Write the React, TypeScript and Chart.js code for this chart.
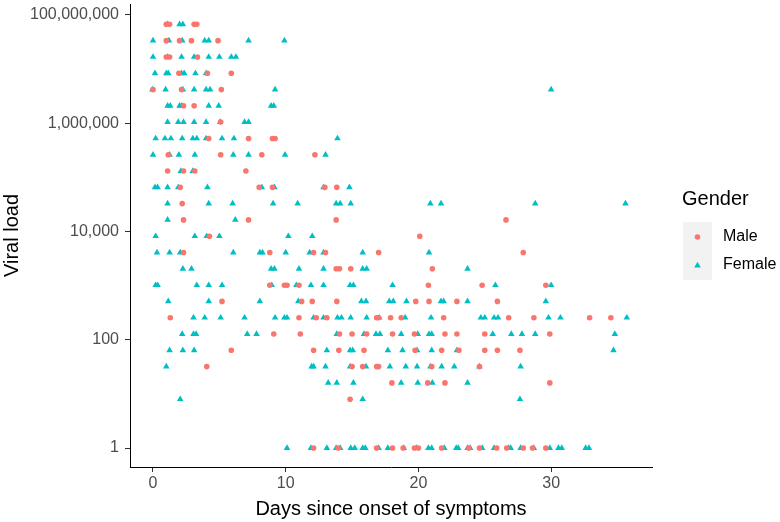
import React, { useEffect, useRef } from 'react';
import { Chart, registerables } from 'chart.js';

Chart.register(...registerables);

// Viral load levels (rows of the plot, from top to bottom)
const loadLevels: number[] = [
  6.71e7, 3.36e7, 1.68e7, 8.39e6, 4.19e6, 2.1e6, 1.05e6, 5.24e5, 2.62e5, 1.31e5,
  6.55e4, 3.28e4, 1.64e4, 8190, 4100, 2050, 1020, 512, 256, 128, 64, 32, 16, 8, 1,
];

// Days since onset for male patients, per viral load level
const maleDaysByLevel: number[][] = [
  [1.0, 1.25, 3.1, 3.3],
  [1.0, 2.0, 2.9, 4.9],
  [1.0, 1.25, 3.35],
  [1.95, 4.1, 5.9],
  [0.0, 2.15, 5.15],
  [2.3, 3.1],
  [5.1],
  [4.2, 7.2, 9.0, 9.2],
  [1.15, 5.1, 8.2, 12.2],
  [1.1, 2.3, 3.15, 7.0],
  [2.05, 8.0, 9.0, 12.95, 13.85],
  [2.2],
  [2.3, 7.2, 13.8, 26.6],
  [4.25, 20.1],
  [2.3, 8.8, 12.1, 13.0, 17.0, 27.9],
  [13.8, 14.05, 14.9, 21.05],
  [8.8, 9.9, 10.1, 11.0, 20.75, 24.8, 29.6],
  [5.2, 11.2, 12.0, 13.85, 19.8, 20.8, 22.9, 25.95],
  [1.3, 11.0, 12.3, 13.1, 16.85, 17.0, 17.9, 18.7, 21.9, 26.8, 28.7, 32.9, 34.5],
  [9.1, 11.1, 14.05, 15.0, 16.1, 18.05, 19.7, 22.0, 22.9, 25.0, 29.9],
  [5.9, 12.1, 14.0, 15.9, 19.75, 21.75, 23.05, 25.0, 25.95, 27.65],
  [4.05, 15.0, 15.8, 16.85, 17.0, 21.0, 24.6],
  [18.0, 20.7, 22.0, 29.9],
  [14.85],
  [12.1, 13.95, 16.85, 18.05, 18.85, 19.7, 20.0, 21.75, 23.8, 24.6, 25.9, 26.65, 27.9, 28.6, 29.6],
];

// Days since onset for female patients, per viral load level
const femaleDaysByLevel: number[][] = [
  [1.1, 2.0, 2.25],
  [0.0, 1.2, 2.2, 3.9, 4.2, 7.2, 9.9],
  [0.0, 1.1, 2.15, 3.1, 4.2, 5.0, 5.9, 6.25],
  [0.15, 1.0, 1.15, 2.15, 2.35, 3.2, 4.0],
  [-0.05, 0.95, 2.25, 3.1, 4.0, 4.3, 9.2, 30.0],
  [1.1, 1.3, 2.0, 2.15, 4.2, 4.95, 8.9, 9.1],
  [1.1, 1.9, 2.3, 3.1, 4.0, 5.05, 6.9, 7.2],
  [0.2, 0.9, 1.35, 2.2, 3.0, 3.3, 4.0, 5.2, 6.1, 13.9],
  [0.0, 1.25, 1.95, 3.15, 6.05, 7.2, 9.95, 13.0],
  [2.1, 3.0],
  [0.15, 0.35, 1.1, 1.9, 4.1, 8.2, 9.15, 12.85, 14.8],
  [1.1, 4.2, 6.0, 9.05, 10.9, 13.8, 14.1, 14.9, 20.9, 21.7, 28.8, 35.6],
  [1.1, 6.2],
  [0.2, 3.15, 4.05, 5.0, 10.2, 12.0],
  [0.3, 1.25, 2.05, 6.05, 8.05, 8.25, 10.0, 11.8, 12.85, 15.8, 20.8],
  [2.25, 2.9, 8.9, 9.15, 11.0, 12.85, 15.8, 16.1, 23.7],
  [0.2, 0.35, 3.3, 4.2, 5.2, 8.95, 10.8, 11.9, 12.85, 14.85, 15.1, 18.05, 25.8, 30.0],
  [1.15, 4.2, 8.05, 10.95, 15.7, 16.05, 17.8, 18.1, 19.1, 21.7, 21.9, 23.7, 29.6],
  [3.05, 3.9, 5.1, 6.9, 9.2, 9.9, 10.1, 12.1, 12.85, 13.9, 14.2, 14.9, 16.1, 17.05, 19.0, 20.95, 24.7, 25.0, 25.7, 26.0, 29.8, 30.7, 35.7],
  [2.2, 3.05, 3.25, 7.1, 7.8, 13.85, 15.9, 16.8, 17.1, 18.7, 19.95, 20.8, 21.0, 25.6, 27.0, 27.8, 28.8, 34.8],
  [1.25, 2.25, 3.1, 13.1, 14.85, 15.05, 17.7, 18.8, 19.9, 21.0, 22.9, 34.7],
  [1.0, 11.95, 12.1, 13.0, 14.85, 16.05, 17.85, 19.05, 19.9, 20.9, 21.75, 22.7, 24.6, 27.7],
  [13.2, 13.85, 15.1, 18.7, 19.95, 21.05, 23.7],
  [2.05, 15.8, 27.65],
  [10.1, 11.9, 13.1, 13.8, 14.1, 14.9, 15.2, 15.8, 16.0, 17.0, 17.7, 18.9, 19.85, 20.75, 21.0, 21.95, 22.85, 23.0, 23.7, 23.9, 24.8, 25.7, 26.8, 26.95, 27.7, 28.7, 29.9, 30.55, 30.8, 32.6, 32.85],
];

const xTickValues = [0, 10, 20, 30];
const yTickValues = [1, 100, 10000, 1000000, 100000000];
const seriesNames = ['Male', 'Female'];
const seriesColors = ['#F8766D', '#00BFC4'];
const legendTitle = 'Gender';
const xTitle = 'Days since onset of symptoms';
const yTitle = 'Viral load';

const FONT = '"Liberation Sans", Arial, sans-serif';

function toPoints(byLevel: number[][]) {
  const pts: { x: number; y: number }[] = [];
  byLevel.forEach((days, i) => {
    days.forEach((d) => pts.push({ x: d, y: loadLevels[i] }));
  });
  return pts;
}

const legendPlugin = {
  id: 'ggLegend',
  afterDraw(chart: any) {
    const ctx = chart.ctx as CanvasRenderingContext2D;
    ctx.save();
    ctx.fillStyle = '#000000';
    ctx.textBaseline = 'middle';
    ctx.textAlign = 'left';
    ctx.font = `20px ${FONT}`;
    ctx.fillText(legendTitle, 682, 199);
    ctx.fillStyle = '#F2F2F2';
    ctx.fillRect(683, 222, 29, 58);
    ctx.fillStyle = seriesColors[0];
    ctx.beginPath();
    ctx.arc(697.5, 237, 2.8, 0, Math.PI * 2);
    ctx.fill();
    const r = 3.8;
    const cx = 697.5;
    const cy = 265.5;
    ctx.fillStyle = seriesColors[1];
    ctx.beginPath();
    let rad = 0;
    ctx.moveTo(cx + Math.sin(rad) * r, cy - Math.cos(rad) * r);
    rad += (2 * Math.PI) / 3;
    ctx.lineTo(cx + Math.sin(rad) * r, cy - Math.cos(rad) * r);
    rad += (2 * Math.PI) / 3;
    ctx.lineTo(cx + Math.sin(rad) * r, cy - Math.cos(rad) * r);
    ctx.closePath();
    ctx.fill();
    ctx.fillStyle = '#000000';
    ctx.font = `16px ${FONT}`;
    ctx.fillText(seriesNames[0], 723, 237);
    ctx.fillText(seriesNames[1], 723, 265);
    ctx.restore();
  },
};

export default function App() {
  const canvasRef = useRef<HTMLCanvasElement | null>(null);

  useEffect(() => {
    const canvas = canvasRef.current;
    if (!canvas) return;
    const chart = new Chart(canvas, {
      type: 'scatter',
      data: {
        datasets: [
          {
            label: seriesNames[0],
            data: toPoints(maleDaysByLevel),
            pointStyle: 'circle',
            pointRadius: 2.8,
            backgroundColor: seriesColors[0],
            borderWidth: 0,
          },
          {
            label: seriesNames[1],
            data: toPoints(femaleDaysByLevel),
            pointStyle: 'triangle',
            pointRadius: 3.8,
            backgroundColor: seriesColors[1],
            borderWidth: 0,
          },
        ],
      },
      options: {
        responsive: false,
        animation: false,
        layout: { padding: { left: 0, right: 128, top: 3, bottom: 0 } },
        plugins: { legend: { display: false }, tooltip: { enabled: false } },
        scales: {
          x: {
            type: 'linear',
            min: -1.733,
            max: 37.6,
            afterBuildTicks: (s: any) => {
              s.ticks = xTickValues.map((v) => ({ value: v }));
            },
            afterFit: (s: any) => {
              s.height = 55;
              s.paddingLeft = 0;
              s.paddingRight = 0;
            },
            ticks: {
              color: '#4D4D4D',
              font: { family: FONT, size: 16 },
              padding: 2,
              maxRotation: 0,
              autoSkip: false,
            },
            grid: {
              display: true,
              drawOnChartArea: false,
              drawTicks: true,
              tickLength: 5,
              color: '#333333',
              lineWidth: 1,
            },
            border: { display: true, color: '#000000', width: 1 },
            title: {
              display: true,
              text: xTitle,
              color: '#000000',
              font: { family: FONT, size: 20 },
              padding: { top: 0, bottom: 1 },
            },
          },
          y: {
            type: 'logarithmic',
            min: 0.447,
            max: 1.596e8,
            afterBuildTicks: (s: any) => {
              s.ticks = yTickValues.map((v) => ({ value: v }));
            },
            afterFit: (s: any) => {
              s.width = 130;
              s.paddingTop = 0;
              s.paddingBottom = 0;
            },
            ticks: {
              color: '#4D4D4D',
              font: { family: FONT, size: 16 },
              padding: 6,
              autoSkip: false,
              callback: (v: any) => Number(v).toLocaleString('en-US'),
            },
            grid: {
              display: true,
              drawOnChartArea: false,
              drawTicks: true,
              tickLength: 5,
              color: '#333333',
              lineWidth: 1,
            },
            border: { display: true, color: '#000000', width: 1 },
            title: {
              display: true,
              text: yTitle,
              color: '#000000',
              font: { family: FONT, size: 20 },
              padding: { top: 0, bottom: 0 },
            },
          },
        },
      },
      plugins: [legendPlugin],
    });
    return () => chart.destroy();
  }, []);

  return (
    <div style={{ position: 'absolute', left: 0, top: 0, width: 780, height: 522, background: '#ffffff' }}>
      <canvas ref={canvasRef} width={780} height={522} style={{ display: 'block' }} />
    </div>
  );
}
